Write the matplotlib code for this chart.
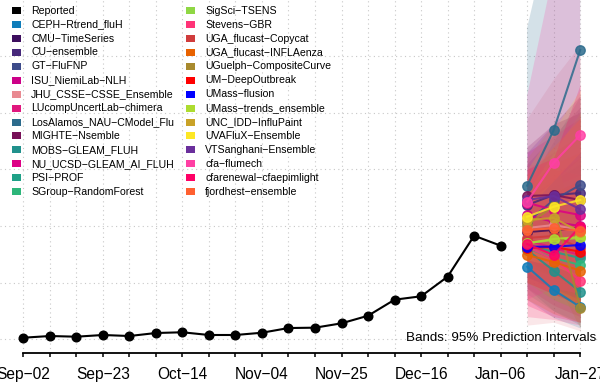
import matplotlib.pyplot as plt
import matplotlib.patches as mpatches
import numpy as np

plt.rcParams['font.family'] = ['Liberation Sans', 'DejaVu Sans']

M = '\u2212'  # R draws hyphens as minus signs

weeks = ['Sep-02', 'Sep-09', 'Sep-16', 'Sep-23', 'Sep-30', 'Oct-07', 'Oct-14',
         'Oct-21', 'Oct-28', 'Nov-04', 'Nov-11', 'Nov-18', 'Nov-25', 'Dec-02',
         'Dec-09', 'Dec-16', 'Dec-23', 'Dec-30', 'Jan-06', 'Jan-13', 'Jan-20',
         'Jan-27']
label_every = 3

reported = [28, 58, 46, 76, 58, 111, 124, 76, 76, 116, 199, 205, 282, 416,
            699, 759, 1105, 1828, 1652]

models = ['CEPH-Rtrend_fluH', 'CMU-TimeSeries', 'CU-ensemble', 'GT-FluFNP',
          'ISU_NiemiLab-NLH', 'JHU_CSSE-CSSE_Ensemble', 'LUcompUncertLab-chimera',
          'LosAlamos_NAU-CModel_Flu', 'MIGHTE-Nsemble', 'MOBS-GLEAM_FLUH',
          'NU_UCSD-GLEAM_AI_FLUH', 'PSI-PROF', 'SGroup-RandomForest',
          'SigSci-TSENS', 'Stevens-GBR', 'UGA_flucast-Copycat',
          'UGA_flucast-INFLAenza', 'UGuelph-CompositeCurve', 'UM-DeepOutbreak',
          'UMass-flusion', 'UMass-trends_ensemble', 'UNC_IDD-InfluPaint',
          'UVAFluX-Ensemble', 'VTSanghani-Ensemble', 'cfa-flumech',
          'cfarenewal-cfaepimlight', 'fjordhest-ensemble']

colors = ['#0F7DBA', '#3D0E5E', '#46287A', '#3D4B8A', '#CC0088', '#E98A92',
          '#E0177E', '#2C6B8C', '#781058', '#21918C', '#DD0085', '#1FA187',
          '#2DB67A', '#8FD744', '#FF3377', '#D03C3C', '#E86200', '#A88A2E',
          '#FF0000', '#0000FF', '#ADDC30', '#C9A227', '#FDE725', '#6A2F9C',
          '#FF3FA4', '#FF0066', '#FF6030']

# medians for horizons Jan-13, Jan-20, Jan-27
med = [[1281, 870, 570], [1893, 1929, 1964], [2370, 2546, 2581],
       [2070, 2458, 2723], [2193, 2070, 1999], [1964, 2017, 1929],
       [1752, 1611, 1488], [2710, 3693, 5105], [2529, 2546, 2458],
       [1576, 1211, 840], [2410, 2282, 2193], [1664, 1541, 1435],
       [1611, 1435, 1311], [1699, 1752, 1788], [1634, 1412, 1034],
       [1788, 1823, 1611], [1488, 1364, 1211], [2017, 2352, 558],
       [1611, 1629, 1546], [1634, 1634, 1664], [1694, 1770, 1805],
       [2105, 2141, 1893], [2163, 2340, 2458], [2458, 2529, 2294],
       [2428, 3116, 3605], [1682, 1488, 1987], [1929, 1959, 1916]]

lo = [[700, 380, 200], [1300, 1100, 950], [1700, 1600, 1400],
      [1500, 1500, 1400], [1400, 1100, 800], [250, 300, 150],
      [900, 600, 400], [1400, 1600, 2000], [1700, 1500, 1300],
      [900, 500, 250], [1500, 1200, 900], [1000, 700, 500],
      [800, 500, 300], [1100, 900, 700], [400, 350, 250],
      [1000, 800, 600], [700, 450, 300], [1300, 1100, 200],
      [1000, 800, 600], [1100, 900, 700], [1000, 700, 500],
      [1200, 900, 500], [1400, 1300, 1100], [1600, 1400, 1100],
      [700, 900, 800], [600, 400, 300], [1100, 900, 700]]

hi = [[1900, 1600, 1400], [2500, 2800, 3100], [3100, 3600, 4100],
      [2700, 3500, 4300], [3000, 3300, 3600], [3900, 4600, 5200],
      [2600, 2900, 3200], [5500, 7500, 9500], [3400, 3800, 4300],
      [2300, 2200, 2000], [3300, 3600, 3900], [2400, 2600, 2800],
      [2500, 2700, 2900], [2400, 2800, 3200], [3100, 3000, 2900],
      [2700, 3100, 3300], [2400, 2600, 2700], [2800, 3400, 1500],
      [2300, 2600, 2800], [2300, 2800, 3300], [2600, 3300, 4000],
      [3200, 3800, 4000], [3000, 3700, 4400], [3300, 3800, 4000],
      [4300, 6500, 8000], [3000, 3200, 4500], [2900, 3400, 3900]]

W, H = 600, 389
fig = plt.figure(figsize=(W / 100, H / 100), dpi=100)
ax = fig.add_axes([0, 36 / H, 1, 353 / H])

x_rep = np.arange(len(reported))
x_fc = np.arange(len(reported), len(weeks))

# grid
for gx in range(len(weeks)):
    ax.axvline(gx, color='#C8C8C8', lw=0.8, ls=(0, (1, 3)), zorder=0)
for gy in range(0, 6000, 1000):
    ax.axhline(gy, color='#C8C8C8', lw=0.8, ls=(0, (1, 3)), zorder=0)

# prediction bands
for i in range(len(models)):
    ax.fill_between(x_fc, lo[i], hi[i], color=colors[i], alpha=0.2,
                    lw=0, zorder=1)

# forecast medians
for i in range(len(models)):
    ax.plot(x_fc, med[i], color=colors[i], lw=1.5, marker='o', ms=6.8,
            alpha=0.85, zorder=3)

# reported
ax.plot(x_rep, reported, color='black', lw=1.5, marker='o', ms=6.2, zorder=4)

ax.set_xlim(-23.3 / 26.52, (W - 23.3) / 26.52)
ax.set_ylim(-241.7, 5987)
ax.set_facecolor('none')

for s in ['top', 'left', 'right']:
    ax.spines[s].set_visible(False)
ax.spines['bottom'].set_bounds(0, len(weeks) - 1)
ax.spines['bottom'].set_linewidth(1.3)
ax.set_yticks([])
ax.set_xticks(range(len(weeks)))
ax.set_xticklabels([w.replace('-', M) if k % label_every == 0 else ''
                    for k, w in enumerate(weeks)])
ax.tick_params(axis='x', length=3.2, width=1.1, pad=7, labelsize=11.2)

# legend, two columns of filled boxes
entries = ['Reported'] + models
entry_cols = ['black'] + colors
rows = 14
for k, (name, c) in enumerate(zip(entries, entry_cols)):
    col, row = divmod(k, rows)
    yc = 10.7 + row * 13.92
    bx = 11.5 if col == 0 else 186
    tx = 31 if col == 0 else 205
    fig.patches.append(mpatches.Rectangle(
        (bx / W, 1 - (yc + 3.5) / H), 9 / W, 7 / H, facecolor=c,
        edgecolor='none', transform=fig.transFigure, figure=fig))
    fig.text(tx / W, 1 - yc / H, name.replace('-', M), fontsize=7.6,
             va='center', ha='left')

fig.text(596 / W, 1 - 338.3 / H, 'Bands: 95% Prediction Intervals',
         fontsize=9.6, ha='right', va='center')

fig.savefig('out.png', dpi=100)
